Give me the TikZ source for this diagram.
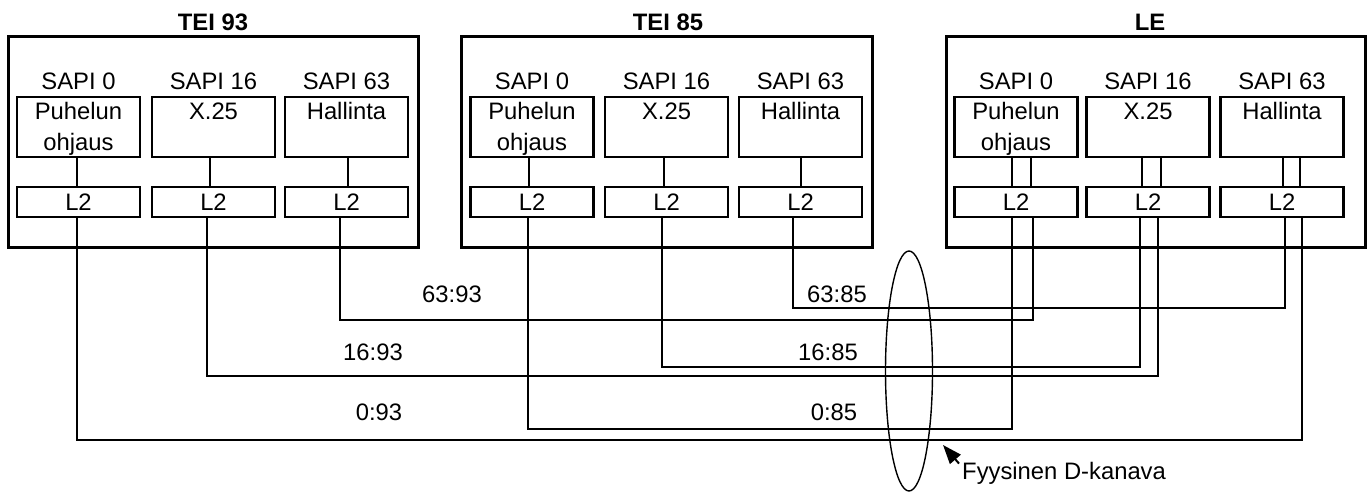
\documentclass[tikz,border=0pt]{standalone}
\usepackage{fontspec}
\setmainfont{Liberation Sans}
\usetikzlibrary{shapes.geometric,arrows.meta}
\newcommand\sapicol[4]{%
  \node[ubox] (#1u) at (#2,127) {};
  \node[lbox] (#1l) at (#2,202) {};
  \node[txt, anchor=base] (#1s) at (#2,90) {SAPI #3};
  \node[txt, anchor=base] (#1x) at (#2,120) {#4};
  \node[txt, anchor=base] (#1t) at (#2,210) {L2};
}
\begin{document}
\begin{tikzpicture}[x=1pt,y=-1pt,
  txt/.style={font=\fontsize{23.8}{28}\selectfont, inner sep=0},
  ttl/.style={font=\fontsize{23.8}{28}\selectfont\bfseries, inner sep=0},
  outer/.style={draw, line width=3pt, minimum width=#1, minimum height=210, inner sep=0},
  ubox/.style={draw, line width=2.4pt, minimum width=123, minimum height=60, inner sep=0},
  lbox/.style={draw, line width=2.4pt, minimum width=123, minimum height=30, inner sep=0},
  wire/.style={line width=1.5pt}]
\useasboundingbox (0,0) rectangle (1370,492);

% outer blocks
\node[outer=410] (A) at (213,142) {};
\node[outer=411] (B) at (666.5,142) {};
\node[outer=419] (C) at (1155.5,142) {};
\node[ttl, anchor=base] (tA) at (213,31) {TEI 93};
\node[ttl, anchor=base] (tB) at (668,31) {TEI 85};
\node[ttl, anchor=base] (tC) at (1150,31) {LE};

% columns
\sapicol{a1}{78.5}{0}{Puhelun}
\sapicol{a2}{213.5}{16}{X.25}
\sapicol{a3}{346.5}{63}{Hallinta}
\sapicol{b1}{532}{0}{Puhelun}
\sapicol{b2}{666.5}{16}{X.25}
\sapicol{b3}{800.5}{63}{Hallinta}
\sapicol{c1}{1016}{0}{Puhelun}
\sapicol{c2}{1148}{16}{X.25}
\sapicol{c3}{1282}{63}{Hallinta}
\node[txt, anchor=base] (a1o) at (78.5,150) {ohjaus};
\node[txt, anchor=base] (b1o) at (532,150) {ohjaus};
\node[txt, anchor=base] (c1o) at (1016,150) {ohjaus};

% inner connectors
\draw[wire] ([xshift=-1.5]a1u.south) -- ([xshift=-1.5]a1l.north);
\draw[wire] ([xshift=-3.5]a2u.south) -- ([xshift=-3.5]a2l.north);
\draw[wire] ([xshift=1.5]a3u.south) -- ([xshift=1.5]a3l.north);
\draw[wire] ([xshift=-3]b1u.south) -- ([xshift=-3]b1l.north);
\draw[wire] ([xshift=-2.5]b2u.south) -- ([xshift=-2.5]b2l.north);
\draw[wire] ([xshift=0.5]b3u.south) -- ([xshift=0.5]b3l.north);
\draw[wire] ([xshift=-4]c1u.south) -- ([xshift=-4]c1l.north);
\draw[wire] ([xshift=15]c1u.south) -- ([xshift=15]c1l.north);
\draw[wire] ([xshift=-6]c2u.south) -- ([xshift=-6]c2l.north);
\draw[wire] ([xshift=13]c2u.south) -- ([xshift=13]c2l.north);
\draw[wire] ([xshift=1]c3u.south) -- ([xshift=1]c3l.north);
\draw[wire] ([xshift=18]c3u.south) -- ([xshift=18]c3l.north);

% logical links
\draw[wire] ([xshift=-6.5]a3l.south) -- ++(0,102) -| ([xshift=17]c1l.south);
\draw[wire] ([xshift=-6.5]a2l.south) -- ++(0,158) -| ([xshift=10]c2l.south);
\draw[wire] ([xshift=-1.5]a1l.south) -- ++(0,222) -| ([xshift=20]c3l.south);
\draw[wire] ([xshift=-7.5]b3l.south) -- ++(0,90) -| ([xshift=3]c3l.south);
\draw[wire] ([xshift=-4.5]b2l.south) -- ++(0,149) -| ([xshift=-8]c2l.south);
\draw[wire] ([xshift=-4]b1l.south) -- ++(0,211) -| ([xshift=-4]c1l.south);

% link labels
\node[txt, anchor=base] (l6393) at (452,302) {63:93};
\node[txt, anchor=base] (l1693) at (373,360) {16:93};
\node[txt, anchor=base] (l093) at (379,420) {0:93};
\node[txt, anchor=base] (l6385) at (837,302) {63:85};
\node[txt, anchor=base] (l1685) at (828,360) {16:85};
\node[txt, anchor=base] (l085) at (834,420) {0:85};

% physical channel
\node[draw, ellipse, line width=1.4pt, minimum width=47, minimum height=240, inner sep=0] (ch) at (909,371) {};
\node[txt, anchor=base west] (fy) at (962,479) {Fyysinen D-kanava};
\coordinate (tip) at (943,445);
\draw[line width=2pt, -{Triangle[length=19pt,width=14pt]}] ([shift={(-3,2)}]fy.north west) -- (tip);
\end{tikzpicture}
\end{document}
